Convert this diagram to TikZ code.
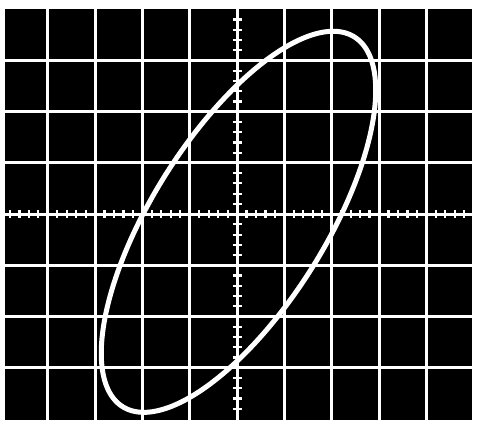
\documentclass[tikz,border=0pt]{standalone}
\usepackage{tikz}

\begin{document}
\begin{tikzpicture}[x=23.65pt, y=25.6pt,
  screen/.style={fill=black},
  gridline/.style={white, line width=1.5pt},
  tickmark/.style={white, line width=1.1pt},
  trace/.style={white, line width=2.5pt, line join=round}]
\useasboundingbox[fill=white] (-5.01,-4.02) rectangle (5.07,4.18);
\fill[screen] (-4.905,-4.02) rectangle (4.97,4);
% graticule
\foreach \i in {-4,...,4}
  \draw[gridline] (\i,-4.02) -- (\i,4);
\foreach \j in {-3,...,3}
  \draw[gridline] (-4.905,\j) -- (4.97,\j);
% small divisions on the axes
\foreach \i in {-24,...,24}
  \draw[tickmark] (\i/5,-0.075) -- (\i/5,0.075);
\foreach \j in {-19,...,19}
  \draw[tickmark] (-0.095,\j/5) -- (0.095,\j/5);
% lissajous trace
\draw[trace, shift={(0.03,-0.15)}] plot[domain=0:357, samples=120, smooth cycle]
  ({2.9*sin(\x)}, {3.72*sin(\x+46.4)});
\end{tikzpicture}
\end{document}
